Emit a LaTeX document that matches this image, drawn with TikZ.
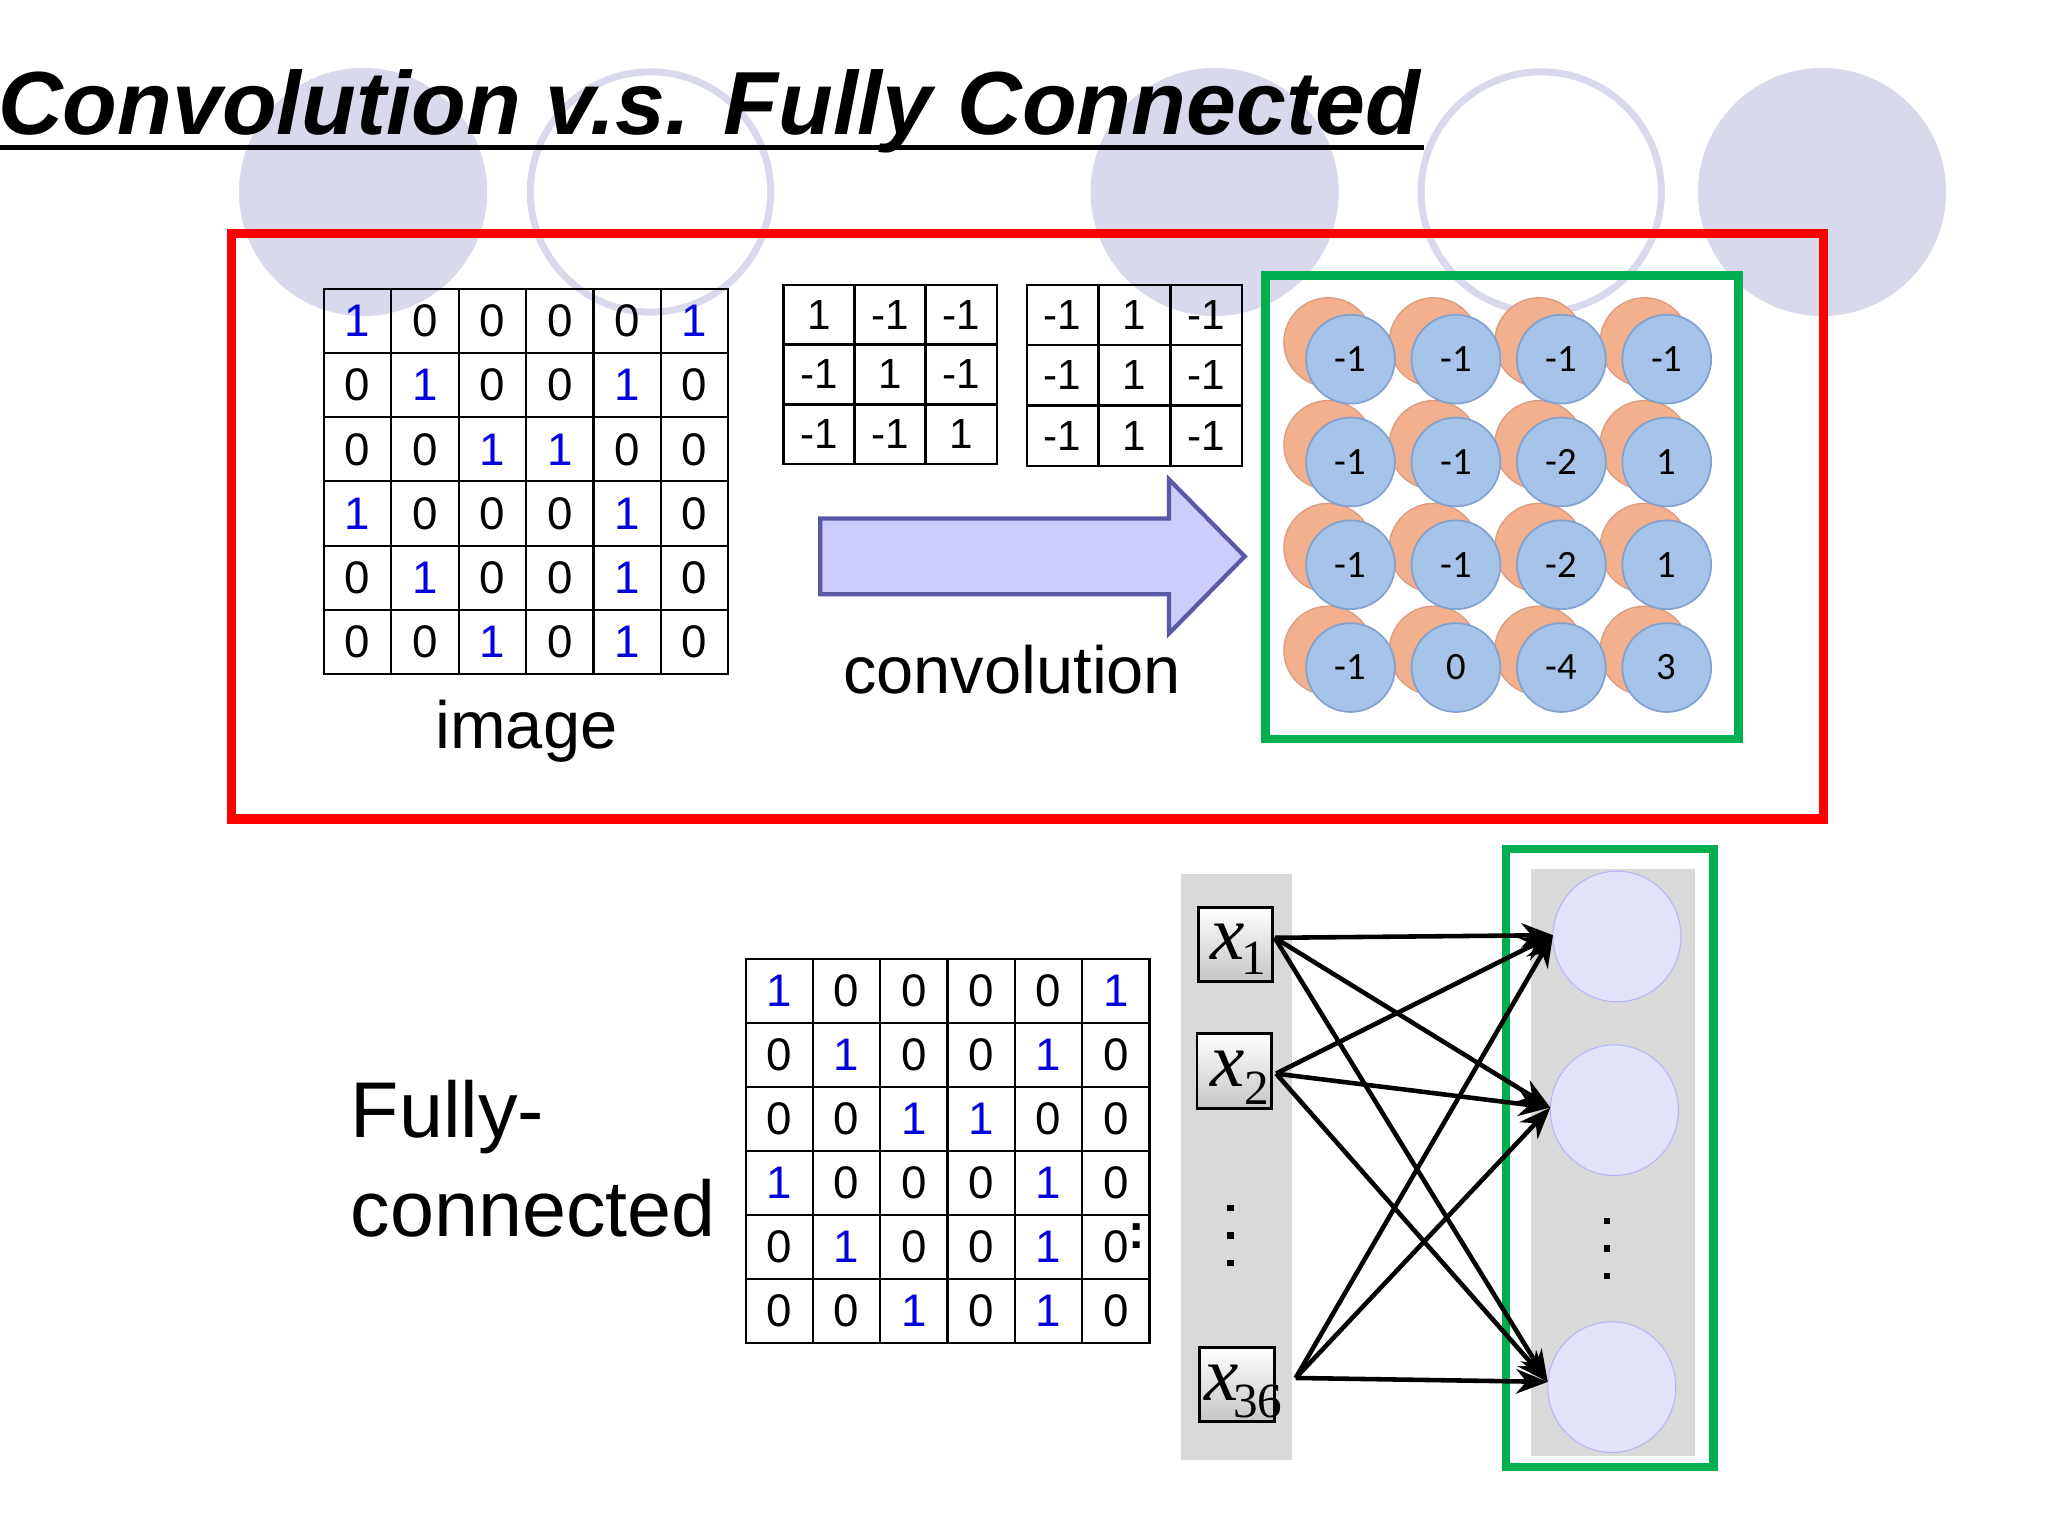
\documentclass[tikz,border=0pt]{standalone}
\usepackage{fontspec}
\setmainfont{Liberation Sans}
\newfontfamily\serifx{Liberation Serif}
\newfontfamily\calib{Carlito}
\usetikzlibrary{arrows.meta,shapes.arrows,shapes.geometric}
\definecolor{deco}{HTML}{D9D9EC}
\definecolor{myblue}{HTML}{0000E0}
\definecolor{cblue}{HTML}{A6C3E9}
\definecolor{cblueb}{HTML}{82A3D0}
\definecolor{corange}{HTML}{F3B08F}
\definecolor{mygreen}{HTML}{00B050}
\definecolor{panel}{HTML}{D9D9D9}
\definecolor{neur}{HTML}{E2E2FA}
\def\u{0.01306cm}
\tikzset{
 cell/.style={draw=black,line width=0.6pt,minimum width=51.6*\u,minimum height=49.2*\u,inner sep=0,font=\fontsize{13}{13}\selectfont},
 fcell/.style={draw=black,line width=0.6pt,minimum width=54.5*\u,minimum height=46*\u,inner sep=0,font=\fontsize{12}{12}\selectfont},
 ob/.style={circle,fill=cblue,draw=cblueb,line width=0.5pt,minimum size=68*\u,inner sep=0,font=\calib\fontsize{11}{11}\selectfont},
 oo/.style={circle,fill=corange,draw=corange!90!black,line width=0.4pt,minimum size=68*\u,inner sep=0},
 xb/.style={draw=black,line width=0.8pt,top color=white,bottom color=gray!45,minimum width=57*\u,minimum height=57*\u,inner sep=0},
 neuron/.style={ellipse,fill=neur,draw=neur!80!blue,line width=0.3pt,minimum width=98*\u,minimum height=100*\u,inner sep=0},
 conn/.style={line width=1.3pt,-{Stealth[length=9pt,width=7pt]}},
 big/.style={font=\fontsize{19}{19}\selectfont},
}
\begin{document}
\begin{tikzpicture}[x=0.01306cm,y=-0.01306cm]
\useasboundingbox (0,0) rectangle (1568,1176);
\fill[deco] (278,147) circle (95);
\fill[deco] (930,147) circle (95);
\fill[deco] (1395,147) circle (95);
\draw[deco,line width=2pt] (498,147) circle (92);
\draw[deco,line width=2pt] (1180,147) circle (92);
\node[anchor=base west,inner sep=0,font=\bfseries\itshape\fontsize{25.5}{25.5}\selectfont] (title) at (-2,103) {Convolution v.s. Fully Connected};
\draw[line width=1.2pt] (0,113) -- (1090,113);
\draw[red,line width=2.6pt] (177,179) rectangle (1396,627);
\foreach \row [count=\r] in {{1,0,0,0,0,1},{0,1,0,0,1,0},{0,0,1,1,0,0},{1,0,0,0,1,0},{0,1,0,0,1,0},{0,0,1,0,1,0}}{
 \foreach \v [count=\c] in \row {
  \ifnum\v=1 \def\cc{myblue}\else\def\cc{black}\fi
  \node[cell,text=\cc] (a-\r-\c) at ({248+51.6*(\c-0.5)},{221+49.2*(\r-0.5)}) {\v};
 }}
\node[big] (imglabel) at (403,560) {image};
\foreach \row [count=\r] in {{1,-1,-1},{-1,1,-1},{-1,-1,1}}{
 \foreach \v [count=\c] in \row {
  \node[fcell] (f-\r-\c) at ({600+54.3*(\c-0.5)},{218+45.8*(\r-0.5)}) {\v};
 }}
\foreach \row [count=\r] in {{-1,1,-1},{-1,1,-1},{-1,1,-1}}{
 \foreach \v [count=\c] in \row {
  \node[fcell] (g-\r-\c) at ({786+55*(\c-0.5)},{218+46.3*(\r-0.5)}) {\v};
 }}
\draw[fill=blue!20,draw=gray!70!blue,line width=1.2pt] (628,397) -- (895,397) -- (895,367) -- (953,426) -- (895,485) -- (895,455) -- (628,455) -- cycle;
\node[big] (convlabel) at (775,513) {convolution};
\draw[mygreen,line width=2.4pt] (969,211) rectangle (1331,566);
\foreach \row [count=\r] in {{-1,-1,-1,-1},{-1,-1,-2,1},{-1,-1,-2,1},{-1,0,-4,3}}{
 \foreach \v [count=\c] in \row {
  \pgfmathsetmacro{\cx}{1034+80.7*(\c-1)}
  \pgfmathsetmacro{\cy}{275+78.7*(\r-1)}
  \node[oo] (o-\r-\c) at (\cx-17,\cy-13) {};
 }}
\foreach \row [count=\r] in {{-1,-1,-1,-1},{-1,-1,-2,1},{-1,-1,-2,1},{-1,0,-4,3}}{
 \foreach \v [count=\c] in \row {
  \pgfmathsetmacro{\cx}{1034+80.7*(\c-1)}
  \pgfmathsetmacro{\cy}{275+78.7*(\r-1)}
  \node[ob] (b-\r-\c) at (\cx,\cy) {\v};
 }}
\node[anchor=west,inner sep=0,font=\fontsize{22.5}{22.5}\selectfont] (fully) at (268,855) {Fully-};
\node[anchor=west,inner sep=0,font=\fontsize{22.5}{22.5}\selectfont] (connected) at (268,925) {connected};
\foreach \row [count=\r] in {{1,0,0,0,0,1},{0,1,0,0,1,0},{0,0,1,1,0,0},{1,0,0,0,1,0},{0,1,0,0,1,0},{0,0,1,0,1,0}}{
 \foreach \v [count=\c] in \row {
  \ifnum\v=1 \def\cc{myblue}\else\def\cc{black}\fi
  \node[cell,text=\cc] (t-\r-\c) at ({571+51.5*(\c-0.5)},{734+49*(\r-0.5)}) {\v};
 }}
\node[font=\bfseries\fontsize{14}{14}\selectfont,inner sep=0] (colon) at (870,946) {:};
\fill[panel] (904,669) rectangle (989,1118);
\fill[panel] (1172,665) rectangle (1298,1115);
\draw[mygreen,line width=2.4pt] (1153,650) rectangle (1312,1123);
\node[xb] (x1) at (946,723) {};
\node[xb] (x2) at (945,820) {};
\node[xb] (x36) at (947,1060) {};
\node[anchor=base,inner sep=0,font=\serifx\itshape\fontsize{22}{22}\selectfont] at (940,735) {x};
\node[anchor=base,inner sep=0,font=\serifx\fontsize{14}{14}\selectfont] at (960,746) {1};
\node[anchor=base,inner sep=0,font=\serifx\itshape\fontsize{22}{22}\selectfont] at (940,832) {x};
\node[anchor=base,inner sep=0,font=\serifx\fontsize{14}{14}\selectfont] at (962,846) {2};
\node[anchor=base,inner sep=0,font=\serifx\itshape\fontsize{22}{22}\selectfont] at (935,1072) {x};
\node[anchor=base,inner sep=0,font=\serifx\fontsize{14}{14}\selectfont] at (963,1085) {36};
\foreach \y in {925,946,967} \fill (939.5,\y-2.5) rectangle (944.5,\y+2.5);
\foreach \y in {935,956,977} \fill (1228,\y-2.5) rectangle (1233,\y+2.5);
\node[neuron] (n1) at (1238,717) {};
\node[neuron] (n2) at (1236,850) {};
\node[neuron] (n3) at (1234,1062) {};
\coordinate (s1) at (976,718);
\coordinate (s2) at (977,822);
\coordinate (s3) at (992,1055);
\coordinate (e1) at (1189,716);
\coordinate (e2) at (1187,848);
\coordinate (e3) at (1185,1058);
\foreach \s in {s1,s2,s3} \foreach \e in {e1,e2,e3} \draw[conn] (\s) -- (\e);
\end{tikzpicture}
\end{document}
